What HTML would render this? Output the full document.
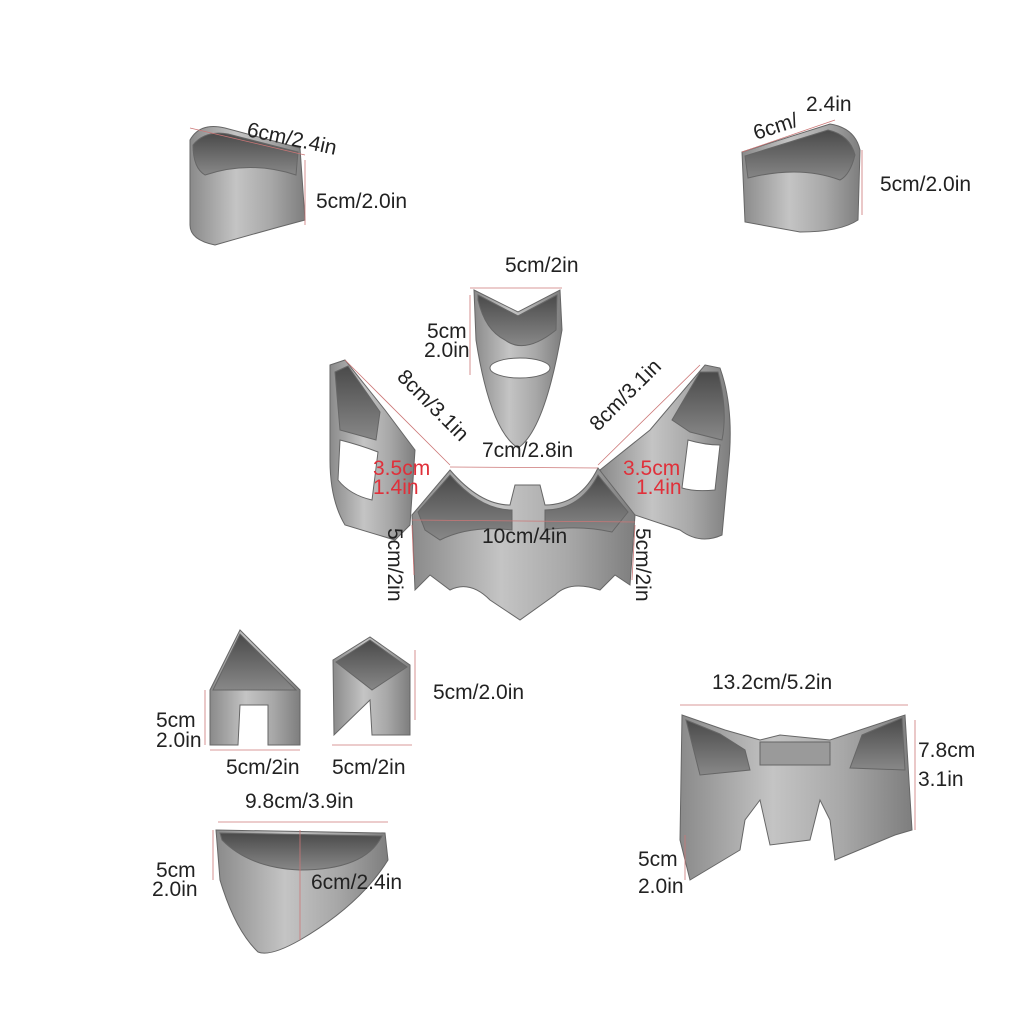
<!DOCTYPE html>
<html><head><style>
html,body{margin:0;padding:0;background:#fff;}
svg{display:block}
text{font-family:"Liberation Sans",sans-serif;font-size:21px;fill:#222}
.r{fill:#e0303a}
</style></head><body>
<svg width="1024" height="1024" viewBox="0 0 1024 1024" xmlns="http://www.w3.org/2000/svg">
<defs>
<linearGradient id="g" x1="0" y1="0" x2="1" y2="0">
<stop offset="0" stop-color="#8a8a8a"/><stop offset="0.4" stop-color="#c4c4c4"/><stop offset="0.7" stop-color="#a8a8a8"/><stop offset="1" stop-color="#7e7e7e"/>
</linearGradient>
<linearGradient id="d" x1="0" y1="0" x2="0" y2="1">
<stop offset="0" stop-color="#4a4a4a"/><stop offset="1" stop-color="#888"/>
</linearGradient>
</defs>
<g stroke="#666" stroke-width="1">
<path d="M190 140 Q200 122 225 128 L300 148 L305 220 Q260 232 215 245 Q190 240 190 225 Z" fill="url(#g)"/>
<path d="M193 145 Q205 130 228 134 L298 152 L296 175 Q250 160 205 175 Q193 168 193 145Z" fill="url(#d)"/>
<path d="M742 152 L830 124 Q855 128 860 150 L858 220 Q840 232 800 232 L745 222 Z" fill="url(#g)"/>
<path d="M745 156 L828 130 Q850 135 855 155 Q850 175 840 180 Q800 165 748 178Z" fill="url(#d)"/>
<path d="M474 290 L518 312 L560 290 L562 330 Q545 430 518 448 Q490 430 476 340 Z" fill="url(#g)"/>
<path d="M478 295 L518 316 L557 295 L556 330 Q525 355 505 340 Q485 330 478 300Z" fill="url(#d)"/>
<ellipse cx="520" cy="368" rx="30" ry="10" fill="#fff"/>
<path d="M330 365 L345 360 L385 410 L415 450 L410 525 L395 540 L345 525 Q330 500 330 460 Z" fill="url(#g)"/>
<path d="M335 372 L348 366 L380 412 L376 440 L340 430 Z" fill="url(#d)"/>
<path d="M340 440 Q360 445 378 452 L372 500 Q350 495 338 480 Z" fill="#fff"/>
<path d="M705 365 L720 368 Q735 410 728 470 L722 535 Q700 545 680 530 L620 510 L600 470 L650 430 Z" fill="url(#g)"/>
<path d="M700 372 L718 372 Q728 410 722 440 L690 432 L672 420Z" fill="url(#d)"/>
<path d="M688 440 Q705 445 720 445 L715 490 Q695 492 682 488 Z" fill="#fff"/>
<path d="M412 515 L450 470 Q480 505 510 505 L515 485 L540 485 L545 505 Q580 505 598 468 L635 515 L630 585 L615 575 L600 590 Q570 580 555 595 L520 620 L490 600 Q470 580 450 590 L430 575 L415 590 Z" fill="url(#g)"/>
<path d="M418 512 L450 475 Q480 510 512 510 L512 530 Q470 525 440 540 L425 530Z" fill="url(#d)"/>
<path d="M545 510 Q580 510 598 475 L628 512 L612 532 Q580 525 545 530Z" fill="url(#d)"/>
<path d="M210 690 L240 630 L300 690 L300 745 L268 745 L268 705 L240 705 L238 745 L210 745 Z" fill="url(#g)"/>
<path d="M213 690 L240 634 L296 690 Z" fill="url(#d)"/>
<path d="M333 660 L370 637 L410 665 L410 735 L372 735 L370 700 L334 735 Z" fill="url(#g)"/>
<path d="M336 662 L370 640 L407 667 L372 690 Z" fill="url(#d)"/>
<path d="M216 830 L385 833 L388 860 Q360 905 300 940 Q270 957 258 952 Q235 930 220 880 Z" fill="url(#g)"/>
<path d="M220 833 L382 836 Q365 870 300 870 Q250 868 222 840 Z" fill="url(#d)"/>
<path d="M682 715 L725 730 L760 740 L780 735 L830 740 L860 730 L905 715 L912 830 L895 835 L835 860 L830 820 L820 800 L810 840 L770 845 L760 800 L745 820 L740 850 L690 880 L680 840 Z" fill="url(#g)"/>
<path d="M686 720 L720 734 L745 750 L750 770 L700 775 Z" fill="url(#d)"/>
<path d="M862 735 L902 718 L905 770 L850 768 Z" fill="url(#d)"/>
<path d="M760 742 L830 742 L830 765 L760 765Z" fill="#9a9a9a"/>
</g>
<g stroke="#c77" stroke-width="0.8" fill="none">
<line x1="190" y1="128" x2="305" y2="155"/><line x1="305" y1="160" x2="305" y2="225"/>
<line x1="742" y1="152" x2="835" y2="120"/><line x1="862" y1="150" x2="862" y2="215"/>
<line x1="470" y1="288" x2="562" y2="288"/><line x1="470" y1="295" x2="470" y2="375"/>
<line x1="345" y1="360" x2="450" y2="465"/><line x1="700" y1="365" x2="598" y2="465"/>
<line x1="450" y1="467" x2="598" y2="468"/><line x1="412" y1="520" x2="635" y2="522"/>
<line x1="412" y1="525" x2="414" y2="575"/><line x1="635" y1="525" x2="632" y2="580"/>
<line x1="205" y1="690" x2="205" y2="745"/><line x1="210" y1="750" x2="300" y2="750"/>
<line x1="332" y1="745" x2="412" y2="745"/><line x1="415" y1="650" x2="415" y2="720"/>
<line x1="218" y1="822" x2="388" y2="822"/><line x1="213" y1="830" x2="213" y2="880"/>
<line x1="300" y1="830" x2="300" y2="940"/>
<line x1="680" y1="705" x2="908" y2="705"/><line x1="915" y1="720" x2="915" y2="830"/>
<line x1="685" y1="835" x2="685" y2="880"/>
</g>
<text x="246" y="136" transform="rotate(12 246 136)">6cm/2.4in</text>
<text x="316" y="208">5cm/2.0in</text>
<text x="756" y="140" transform="rotate(-18 756 140)">6cm/</text>
<text x="806" y="111">2.4in</text>
<text x="880" y="191">5cm/2.0in</text>
<text x="505" y="272">5cm/2in</text>
<text x="427" y="338">5cm</text>
<text x="424" y="357">2.0in</text>
<text x="396" y="378" transform="rotate(45 396 378)">8cm/3.1in</text>
<text x="598" y="432" transform="rotate(-45 598 432)">8cm/3.1in</text>
<text x="482" y="457">7cm/2.8in</text>
<text x="373" y="475" class="r">3.5cm</text>
<text x="373" y="494" class="r">1.4in</text>
<text x="623" y="475" class="r">3.5cm</text>
<text x="636" y="494" class="r">1.4in</text>
<text x="482" y="543">10cm/4in</text>
<text x="388" y="528" transform="rotate(90 388 528)">5cm/2in</text>
<text x="636" y="528" transform="rotate(90 636 528)">5cm/2in</text>
<text x="433" y="699">5cm/2.0in</text>
<text x="156" y="727">5cm</text>
<text x="156" y="747">2.0in</text>
<text x="226" y="774">5cm/2in</text>
<text x="332" y="774">5cm/2in</text>
<text x="245" y="808">9.8cm/3.9in</text>
<text x="156" y="877">5cm</text>
<text x="152" y="896">2.0in</text>
<text x="311" y="889">6cm/2.4in</text>
<text x="712" y="689">13.2cm/5.2in</text>
<text x="918" y="757">7.8cm</text>
<text x="918" y="786">3.1in</text>
<text x="638" y="866">5cm</text>
<text x="638" y="893">2.0in</text>
</svg>
</body></html>
